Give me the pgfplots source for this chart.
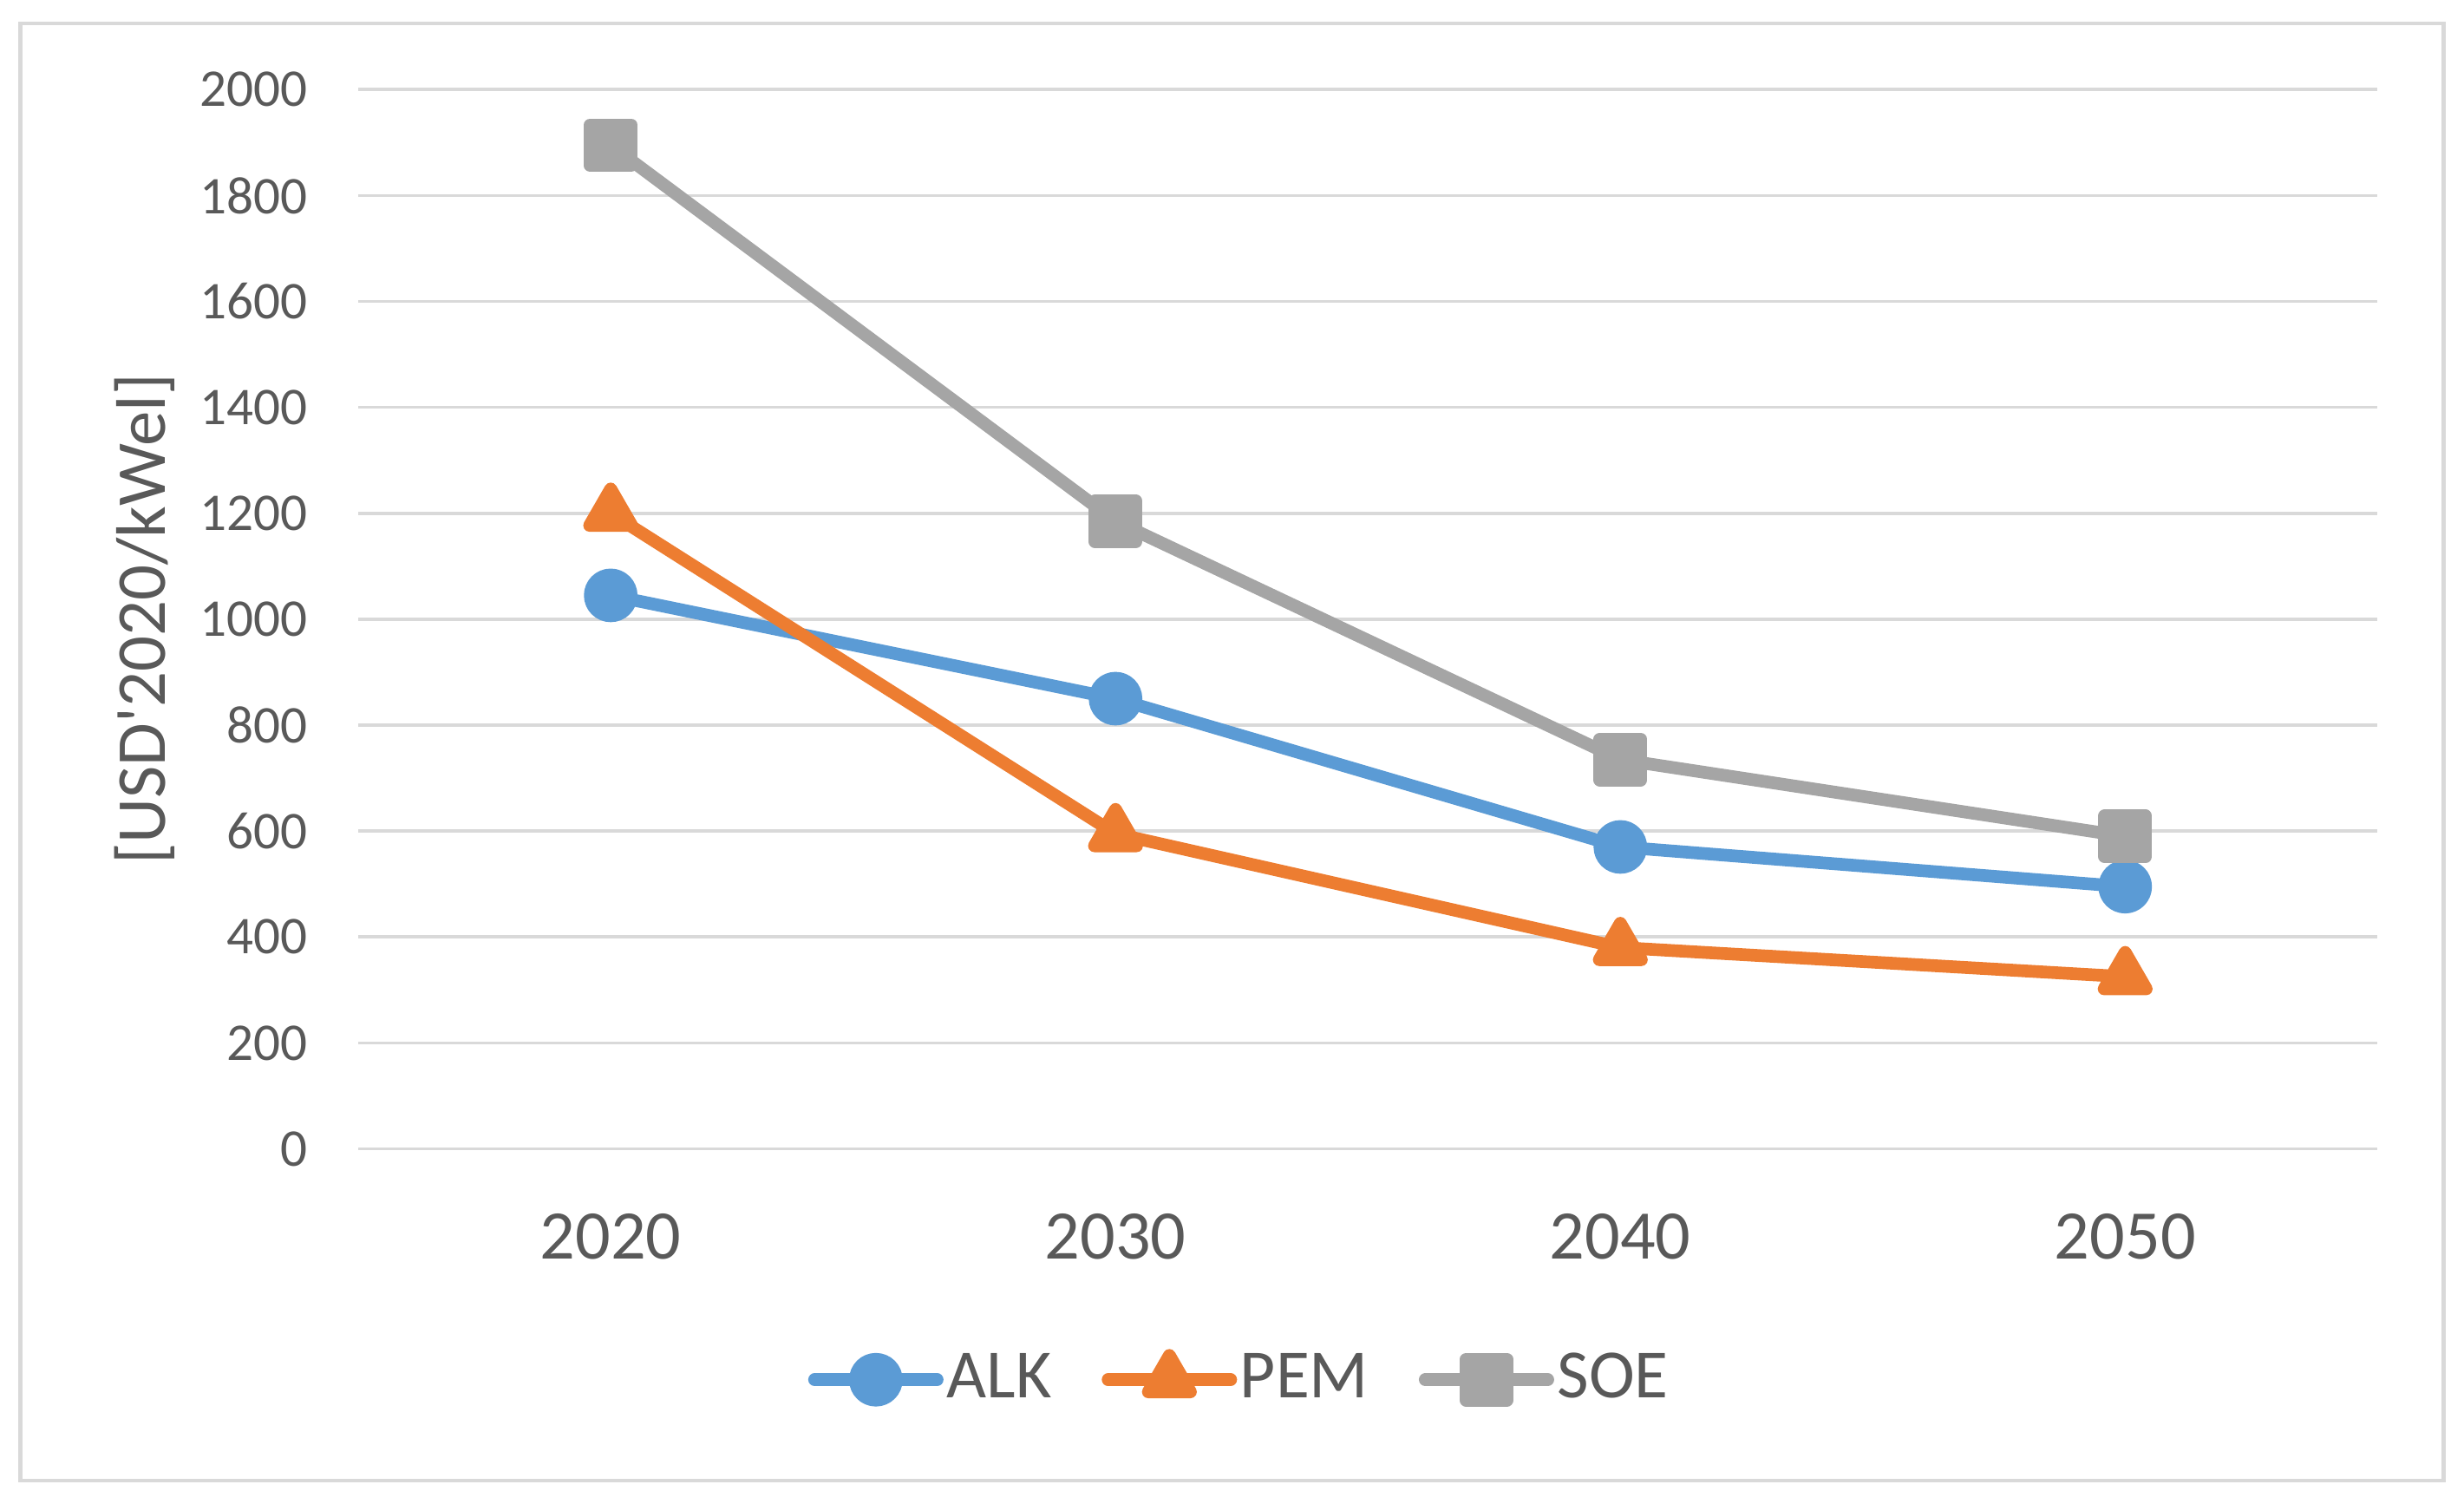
\documentclass[border=0pt]{standalone}
\usepackage{pgfplots}
\pgfplotsset{compat=1.18}
\usepackage{fontspec}
\setmainfont{Carlito}
\definecolor{alk}{HTML}{5B9BD5}
\definecolor{pem}{HTML}{ED7D31}
\definecolor{soe}{HTML}{A5A5A5}
\definecolor{txt}{HTML}{595959}
\definecolor{grd}{HTML}{D9D9D9}
\begin{document}
\begin{tikzpicture}
\path[use as bounding box] (0,0) rectangle (15.68cm,9.57cm);
\draw[grd, line width=0.025cm] (0.13cm,0.15cm) rectangle (15.55cm,9.42cm);
\begin{axis}[
 at={(2.28cm,2.26cm)}, anchor=south west,
 scale only axis, width=12.85cm, height=6.74cm,
 xmin=-0.5, xmax=3.5, ymin=0, ymax=2000,
 xtick={0,1,2,3}, xticklabels={2020,2030,2040,2050},
 ytick={0,200,...,2000},
 axis line style={draw=none},
 major tick length=0,
 ymajorgrids, grid style={grd, line width=0.02cm},
 x tick label style={font=\fontsize{12.6}{14}\selectfont, text=txt, yshift=-0.29cm},
 y tick label style={font=\fontsize{9.6}{11}\selectfont, text=txt, xshift=-0.2cm},
 /pgf/number format/assume math mode=true,
 /pgf/number format/1000 sep={},
 ylabel={[USD\textquotesingle 2020/kWel]},
 ylabel style={at={(axis description cs:-0.1058,0.5)}, anchor=center, font=\fontsize{12.7}{14}\selectfont, text=txt},
 legend columns=-1,
 legend style={at={(axis description cs:0.4366,-0.218)}, anchor=center, draw=none, fill=none,
   font=\fontsize{12.5}{14}\selectfont, text=txt,
   /tikz/every even column/.append style={column sep=0.3cm},
   nodes={inner sep=0.02cm}},
 legend image code/.code={\draw[mark repeat=2,mark phase=2,#1] plot coordinates {(0cm,0cm) (0.39cm,0cm) (0.78cm,0cm)};},
 every axis plot/.append style={line width=2.3pt, line cap=round, line join=round},
]
\addplot[alk, mark=*, mark size=0.13cm, mark options={draw=none, fill=alk}] coordinates {(0,1045) (1,850) (2,570) (3,495)};
\addlegendentry{ALK}
\addplot[pem, mark=triangle*, mark size=0.155cm, mark options={draw=none, fill=pem}] coordinates {(0,1200) (1,595) (2,380) (3,325)};
\addlegendentry{PEM}
\addplot[soe, mark=square*, mark size=0.13cm, mark options={draw=none, fill=soe}] coordinates {(0,1895) (1,1185) (2,735) (3,590)};
\addlegendentry{SOE}
\end{axis}
\end{tikzpicture}
\end{document}
